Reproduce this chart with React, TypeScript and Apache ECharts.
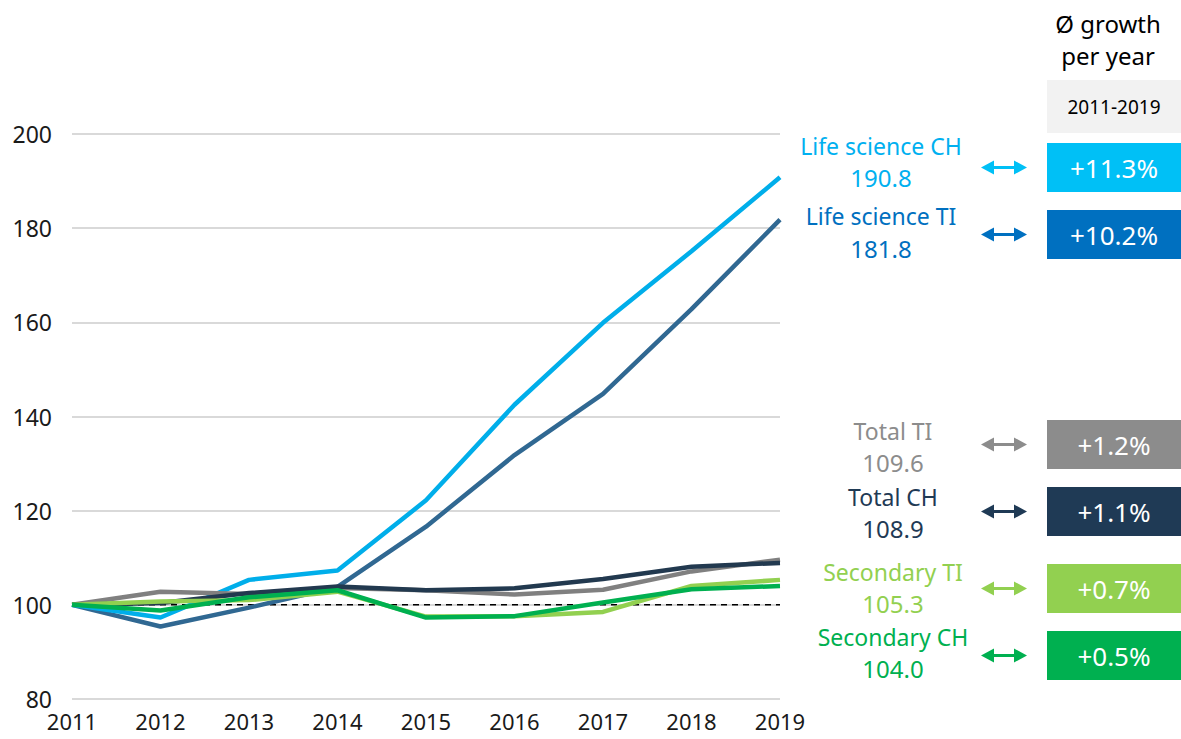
import React, { useEffect, useRef } from "react";
import * as echarts from "echarts";

const years = ["2011", "2012", "2013", "2014", "2015", "2016", "2017", "2018", "2019"];

const lifeScienceTI = [100, 95.4, 99.4, 103.8, 116.6, 131.8, 144.8, 162.8, 181.8];
const lifeScienceCH = [100, 97.3, 105.3, 107.3, 122.2, 142.5, 159.9, 175.1, 190.8];
const totalTI = [100, 102.8, 102.3, 103.6, 103.1, 102.2, 103.2, 107.1, 109.6];
const totalCH = [100, 100.4, 102.5, 103.9, 103.1, 103.5, 105.5, 108.1, 108.9];
const secondaryTI = [100, 100.7, 101.0, 102.8, 97.5, 97.6, 98.5, 104.0, 105.3];
const secondaryCH = [100, 98.8, 101.6, 103.1, 97.3, 97.6, 100.5, 103.3, 104.0];

const seriesNames = ["Life science TI", "Life science CH", "Total TI", "Total CH", "Secondary TI", "Secondary CH"];
const seriesData = [lifeScienceTI, lifeScienceCH, totalTI, totalCH, secondaryTI, secondaryCH];
const lineColors = ["#306892", "#00AEEA", "#808080", "#22394F", "#92D050", "#00B050"];

// right-hand panel (order top to bottom)
const panelNames = ["Life science CH", "Life science TI", "Total TI", "Total CH", "Secondary TI", "Secondary CH"];
const panelValues = ["190.8", "181.8", "109.6", "108.9", "105.3", "104.0"];
const panelGrowth = ["+11.3%", "+10.2%", "+1.2%", "+1.1%", "+0.7%", "+0.5%"];
const panelTextColors = ["#00B0F0", "#0070C0", "#8C8C8C", "#1F3A55", "#92D050", "#00B050"];
const panelBoxColors = ["#00C0F6", "#0070C0", "#8C8C8C", "#1F3A55", "#92D050", "#00B050"];

// layout (pixels)
const boxTops = [143, 210, 420, 487, 564, 631];
const boxHeight = 49;
const nameY = [146, 216, 431, 497, 572, 637];
const valueY = [177, 248, 462, 528, 603, 668];
const labelCX = [881, 881, 893, 893, 893, 893];

const FONT = "'Noto Sans', sans-serif";

function arrow(cx: number, cy: number, color: string) {
  const x0 = cx - 23;
  const x1 = cx + 23;
  const hw = 13;
  const hh = 7;
  const st = 1.5;
  return {
    type: "polygon",
    shape: {
      points: [
        [x0, cy],
        [x0 + hw, cy - hh],
        [x0 + hw, cy - st],
        [x1 - hw, cy - st],
        [x1 - hw, cy - hh],
        [x1, cy],
        [x1 - hw, cy + hh],
        [x1 - hw, cy + st],
        [x0 + hw, cy + st],
        [x0 + hw, cy + hh],
      ],
    },
    style: { fill: color },
    silent: true,
  };
}

export default function App() {
  const ref = useRef<HTMLDivElement>(null);
  useEffect(() => {
    if (!ref.current) return;
    const chart = echarts.init(ref.current, null, { renderer: "svg" });

    const graphics: any[] = [
      {
        type: "text",
        x: 1108,
        y: 23,
        style: { text: "Ø growth", font: `24px ${FONT}`, fill: "#000", textAlign: "center", textVerticalAlign: "middle" },
      },
      {
        type: "text",
        x: 1108,
        y: 55,
        style: { text: "per year", font: `24px ${FONT}`, fill: "#000", textAlign: "center", textVerticalAlign: "middle" },
      },
      {
        type: "rect",
        shape: { x: 1047, y: 80, width: 134, height: 53 },
        style: { fill: "#F2F2F2" },
      },
      {
        type: "text",
        x: 1114,
        y: 107,
        style: { text: "2011-2019", font: `19px ${FONT}`, fill: "#000", textAlign: "center", textVerticalAlign: "middle" },
      },
    ];

    panelNames.forEach((name, i) => {
      graphics.push({
        type: "text",
        x: labelCX[i],
        y: nameY[i],
        style: { text: name, font: `23px ${FONT}`, fill: panelTextColors[i], textAlign: "center", textVerticalAlign: "middle" },
      });
      graphics.push({
        type: "text",
        x: labelCX[i],
        y: valueY[i],
        style: { text: panelValues[i], font: `24px ${FONT}`, fill: panelTextColors[i], textAlign: "center", textVerticalAlign: "middle" },
      });
      graphics.push(arrow(1004, boxTops[i] + boxHeight / 2, panelBoxColors[i]));
      graphics.push({
        type: "rect",
        shape: { x: 1047, y: boxTops[i], width: 134, height: boxHeight },
        style: { fill: panelBoxColors[i] },
      });
      graphics.push({
        type: "text",
        x: 1114,
        y: boxTops[i] + boxHeight / 2,
        style: { text: panelGrowth[i], font: `26px ${FONT}`, fill: "#FFFFFF", textAlign: "center", textVerticalAlign: "middle" },
      });
    });

    const series: any[] = seriesData.map((d, i) => ({
      name: seriesNames[i],
      type: "line",
      data: d,
      symbol: "none",
      lineStyle: { color: lineColors[i], width: 4.5 },
      z: 3 + i,
    }));
    series.push({
      name: "base",
      type: "line",
      data: years.map(() => 100),
      symbol: "none",
      lineStyle: { color: "#000", width: 1.5, type: [6, 5] },
      z: 2,
    });

    chart.setOption({
      animation: false,
      backgroundColor: "#FFFFFF",
      textStyle: { fontFamily: FONT },
      grid: { left: 72, right: 401, top: 134, bottom: 40, containLabel: false },
      xAxis: {
        type: "category",
        data: years,
        boundaryGap: false,
        axisLine: { show: false },
        axisTick: { show: false },
        axisLabel: { color: "#1A1A1A", fontSize: 22, margin: 11, fontFamily: FONT },
        splitLine: { show: false },
      },
      yAxis: {
        type: "value",
        min: 80,
        max: 200,
        interval: 20,
        axisLine: { show: false },
        axisTick: { show: false },
        axisLabel: { color: "#1A1A1A", fontSize: 23, margin: 20, fontFamily: FONT },
        splitLine: { lineStyle: { color: "#D9D9D9", width: 2 } },
      },
      series,
      graphic: graphics,
    });

    return () => chart.dispose();
  }, []);

  return (
    <div
      ref={ref}
      style={{ position: "absolute", left: 0, top: 0, width: 1181, height: 739 }}
    />
  );
}
